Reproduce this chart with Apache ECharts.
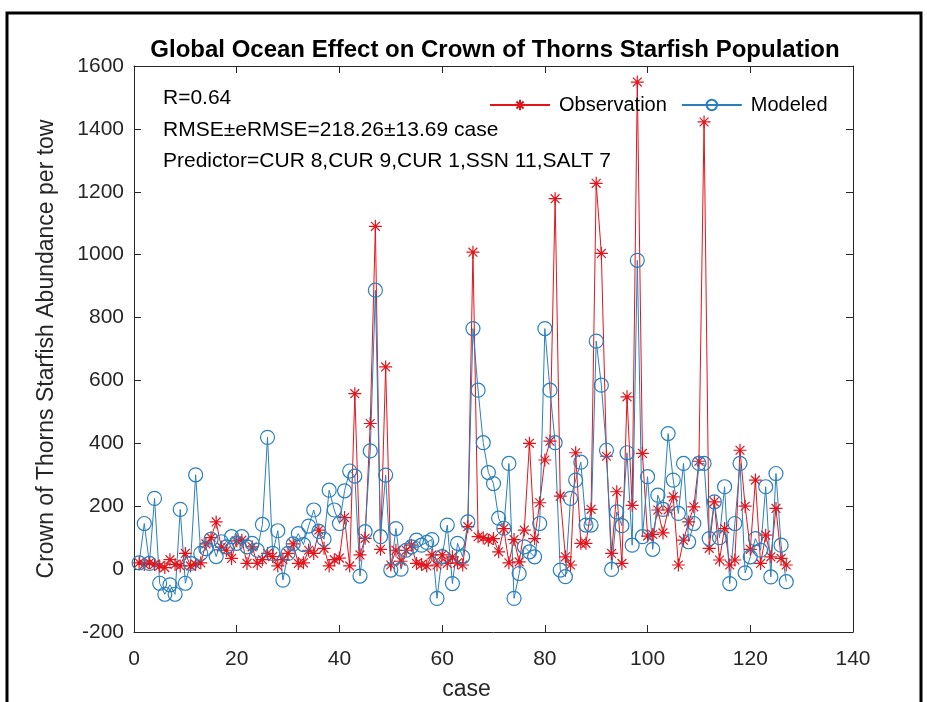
<!DOCTYPE html>
<html>
<head>
<meta charset="utf-8">
<style>
html,body{margin:0;padding:0;background:#fff;}
#chart{width:927px;height:702px;}
</style>
<script src="https://cdn.jsdelivr.net/npm/echarts@6/dist/echarts.min.js"></script>
</head>
<body>
<div id="chart"></div>
<script>
// Observation values for case 1..127
const observation = [
  20, 15, 20, 15, 10, 5, 30, 15, 10, 50,
  10, 15, 20, 80, 100, 150, 70, 60, 34, 90,
  92, 18, 71, 18, 30, 50, 40, 10, 30, 50,
  80, 18, 20, 60, 50, 124, 66, 10, 30, 35,
  164, 10, 558, 45, 98, 463, 1090, 63, 643, 13,
  60, 25, 60, 76, 18, 15, 10, 45, 13, 45,
  18, 39, 20, 13, 135, 1008, 103, 100, 92, 97,
  55, 129, 20, 94, 23, 124, 400, 97, 211, 347,
  407, 1178, 232, 39, 13, 370, 82, 82, 190, 1227,
  1004, 359, 50, 246, 18, 548, 203, 1549, 368, 105,
  110, 188, 115, 188, 230, 13, 92, 150, 198, 343,
  1422, 66, 214, 29, 129, 13, 29, 378, 200, 63,
  283, 18, 108, 39, 193, 34, 13
];
// Modeled values for case 1..127
const modeled = [
  20, 145, 18, 225, -45, -80, -50, -80, 190, -45,
  18, 300, 50, 65, 95, 40, 87, 71, 103, 82,
  103, 71, 82, 60, 142, 419, 50, 122, -35, 50,
  80, 113, 78, 137, 188, 120, 95, 251, 188, 145,
  249, 312, 296, -22, 119, 376, 887, 103, 299, -3,
  129, 0, 60, 71, 92, 76, 85, 94, -93, 40,
  140, -46, 82, 39, 150, 765, 569, 402, 307, 272,
  162, 130, 336, -93, -14, 71, 55, 39, 145, 765,
  569, 402, -3, -24, 225, 283, 340, 140, 140, 725,
  585, 378, -1, 182, 138, 370, 76, 982, 103, 294,
  63, 235, 190, 431, 283, 177, 336, 87, 145, 336,
  336, 97, 214, 100, 262, -46, 145, 336, -12, 39,
  97, 60, 262, -25, 304, 76, -40
];
const xTicks = [0, 20, 40, 60, 80, 100, 120, 140];
const yTicks = [-200, 0, 200, 400, 600, 800, 1000, 1200, 1400, 1600];
const seriesNames = ['Observation', 'Modeled'];
const annotations = ['R=0.64', 'RMSE\u00b1eRMSE=218.26\u00b113.69 case', 'Predictor=CUR 8,CUR 9,CUR 1,SSN 11,SALT 7'];
const titleText = 'Global Ocean Effect on Crown of Thorns Starfish Population';
const xName = 'case';
const yName = 'Crown of Thorns Starfish Abundance per tow';

const RED = '#e3151c';
const BLUE = '#2a7fbd';
const AX = '#262626';
const FONT = 'Liberation Sans, Arial, Helvetica, sans-serif';
const STAR = 'path://M0,5L10,5M5,0L5,10M1.6,1.6L8.4,8.4M8.4,1.6L1.6,8.4';

const chart = echarts.init(document.getElementById('chart'), null, {renderer: 'canvas'});

const baseAxis = {
  axisLine: {show: true, onZero: false, lineStyle: {color: AX, width: 1}},
  axisTick: {show: true, inside: true, length: 7, lineStyle: {color: AX, width: 1}},
  splitLine: {show: false}
};

const option = {
  backgroundColor: '#fff',
  animation: false,
  textStyle: {fontFamily: FONT},
  title: {
    text: titleText,
    left: 490, top: 33, textAlign: 'center',
    textStyle: {fontFamily: FONT, fontSize: 24, fontWeight: 'bold', color: '#000'}
  },
  legend: {
    data: seriesNames,
    left: 484, top: 90,
    itemWidth: 60, itemHeight: 13, itemGap: 14,
    textStyle: {fontFamily: FONT, fontSize: 20, color: '#000', padding: [0, 0, 0, 4]}
  },
  grid: {left: 134, top: 66, width: 719, height: 566, containLabel: false, outerBoundsMode: 'none'},
  xAxis: [
    Object.assign({}, baseAxis, {
      type: 'value', min: xTicks[0], max: xTicks[xTicks.length - 1], interval: 20,
      position: 'bottom',
      axisLabel: {fontFamily: FONT, fontSize: 21, color: AX, margin: 17, formatter: v => String(v)},
      name: xName, nameLocation: 'middle', nameGap: 46,
      nameTextStyle: {fontFamily: FONT, fontSize: 23, color: AX, padding: [0, 54, 0, 0]}
    }),
    Object.assign({}, baseAxis, {
      type: 'value', min: xTicks[0], max: xTicks[xTicks.length - 1], interval: 20,
      position: 'top', axisLabel: {show: false}
    })
  ],
  yAxis: [
    Object.assign({}, baseAxis, {
      type: 'value', min: yTicks[0], max: yTicks[yTicks.length - 1], interval: 200,
      position: 'left',
      axisLabel: {fontFamily: FONT, fontSize: 21, color: AX, margin: 10, formatter: v => String(v)},
      name: yName, nameLocation: 'middle', nameGap: 76,
      nameTextStyle: {fontFamily: FONT, fontSize: 23, color: AX}
    }),
    Object.assign({}, baseAxis, {
      type: 'value', min: yTicks[0], max: yTicks[yTicks.length - 1], interval: 200,
      position: 'right', axisLabel: {show: false}
    })
  ],
  series: [
    {
      name: seriesNames[0], type: 'line',
      data: observation.map((v, i) => [i + 1, v]),
      symbol: STAR, symbolSize: 13, showAllSymbol: true,
      lineStyle: {color: RED, width: 1},
      itemStyle: {color: RED, borderColor: RED, borderWidth: 1.2},
      emphasis: {disabled: true}
    },
    {
      name: seriesNames[1], type: 'line',
      data: modeled.map((v, i) => [i + 1, v]),
      symbol: 'circle', symbolSize: 14, showAllSymbol: true,
      lineStyle: {color: BLUE, width: 1},
      itemStyle: {color: 'rgba(0,0,0,0)', borderColor: BLUE, borderWidth: 1.2},
      emphasis: {disabled: true}
    }
  ],
  graphic: [
    {type: 'polyline', shape: {points: [[7, 702], [7, 13], [921, 13], [921, 702]]},
     style: {stroke: '#000', lineWidth: 3, fill: null}, silent: true},
    {type: 'text', left: 163, top: 88, style: {text: annotations[0], font: '21px ' + FONT, fill: '#000'}},
    {type: 'text', left: 163, top: 120, style: {text: annotations[1], font: '21px ' + FONT, fill: '#000'}},
    {type: 'text', left: 163, top: 151, style: {text: annotations[2], font: '21px ' + FONT, fill: '#000'}}
  ]
};
chart.setOption(option);
</script>
</body>
</html>
